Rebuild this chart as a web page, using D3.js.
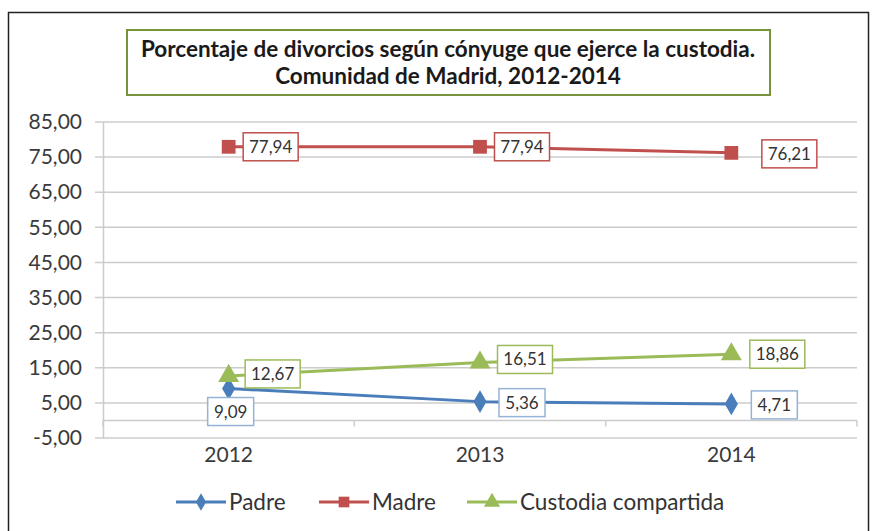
<!DOCTYPE html>
<html>
<head>
<meta charset="utf-8">
<script src="https://cdn.jsdelivr.net/npm/d3@7"></script>
<style>
  body { margin: 0; background: #fff; }
  svg { font-family: Lato, "Open Sans", sans-serif; }
</style>
</head>
<body>
<script>
// datos del grafico
var years = ["2012", "2013", "2014"];
var padre = [9.09, 5.36, 4.71];
var madre = [77.94, 77.94, 76.21];
var compartida = [12.67, 16.51, 18.86];
var seriesNames = ["Padre", "Madre", "Custodia compartida"];
var yTicks = [-5, 5, 15, 25, 35, 45, 55, 65, 75, 85];
var titleLines = ["Porcentaje de divorcios según cónyuge que ejerce la custodia.", "Comunidad de Madrid, 2012-2014"];

var width = 874, height = 531;
var colors = ["#4a7ebb", "#c0504d", "#9bbb59"];
var boxColors = ["#95b3d7", "#c0504d", "#9bbb59"];

var svg = d3.select("body").append("svg")
    .attr("width", width)
    .attr("height", height);

// marco exterior
svg.append("rect")
    .attr("x", 8.5).attr("y", 12.5)
    .attr("width", 860).attr("height", 540)
    .attr("fill", "none").attr("stroke", "#222").attr("stroke-width", 1.5);

// titulo
svg.append("rect")
    .attr("x", 127).attr("y", 30)
    .attr("width", 643).attr("height", 65)
    .attr("fill", "#fff").attr("stroke", "#77933c").attr("stroke-width", 2);
svg.selectAll(".title").data(titleLines).enter().append("text")
    .attr("x", 448).attr("y", function(d, i){ return 57 + i * 27; })
    .attr("text-anchor", "middle")
    .attr("font-size", 22.5).attr("font-weight", "bold").attr("fill", "#1a1a1a")
    .text(function(d){ return d; });

var left = 103, right = 857;
var xscale = d3.scaleBand().domain(years).range([left, right]);
var yscale = d3.scaleLinear().domain([-5, 85]).range([438, 122]);
var fmt = function(v){ return v.toFixed(2).replace(".", ","); };

// lineas de cuadricula
svg.append("g").selectAll("line").data(yTicks).enter().append("line")
    .attr("x1", left - 8).attr("x2", right)
    .attr("y1", function(d){ return yscale(d); })
    .attr("y2", function(d){ return yscale(d); })
    .attr("stroke", "#cccccc").attr("stroke-width", 1.5);

var y_axis = d3.axisLeft(yscale).tickValues(yTicks).tickSize(0).tickPadding(21)
    .tickFormat(fmt);
var gy = svg.append("g").attr("transform", "translate(" + left + ",0)").call(y_axis);
gy.select(".domain").attr("stroke", "#cccccc").attr("stroke-width", 1.5);
gy.selectAll("text").attr("font-size", 21).attr("fill", "#3a3a3a")
    .attr("font-family", "Lato, sans-serif");

// eje x cruzando en 0
var zeroY = yscale(0);
svg.append("line").attr("x1", left).attr("x2", right)
    .attr("y1", zeroY).attr("y2", zeroY)
    .attr("stroke", "#cccccc").attr("stroke-width", 1.5);
var tickPos = years.map(function(d){ return xscale(d); }).concat([right]);
svg.append("g").selectAll("line").data(tickPos).enter().append("line")
    .attr("x1", function(d){ return d; }).attr("x2", function(d){ return d; })
    .attr("y1", zeroY).attr("y2", zeroY + 6)
    .attr("stroke", "#cccccc").attr("stroke-width", 1.5);
svg.append("g").selectAll("text").data(years).enter().append("text")
    .attr("x", function(d){ return xscale(d) + xscale.bandwidth() / 2; })
    .attr("y", 462)
    .attr("text-anchor", "middle").attr("font-size", 21).attr("fill", "#3a3a3a")
    .text(function(d){ return d; });

var cx = function(i){ return xscale(years[i]) + xscale.bandwidth() / 2; };
var allSeries = [padre, madre, compartida];
var symbols = [d3.symbolDiamond, d3.symbolSquare, d3.symbolTriangle];
var symSizes = [150, 190, 190];

// desplazamientos de las etiquetas [dx, dy] respecto al punto
var labelOffsets = [
  [[2, 23], [42, 1], [43, 1]],
  [[42, 0], [42, 0], [58, 1]],
  [[44, -2], [45, -3], [46, 0]]
];

var line = d3.line()
    .x(function(d, i){ return cx(i); })
    .y(function(d){ return yscale(d); });

allSeries.forEach(function(data, s){
  svg.append("path").datum(data)
      .attr("d", line)
      .attr("fill", "none").attr("stroke", colors[s]).attr("stroke-width", 3);
  svg.append("g").selectAll("path").data(data).enter().append("path")
      .attr("transform", function(d, i){ return "translate(" + cx(i) + "," + yscale(d) + ")"; })
      .attr("d", d3.symbol().type(symbols[s]).size(symSizes[s]))
      .attr("fill", colors[s]);
});

// etiquetas de datos
allSeries.forEach(function(data, s){
  data.forEach(function(v, i){
    var lx = cx(i) + labelOffsets[s][i][0];
    var ly = yscale(v) + labelOffsets[s][i][1];
    var txt = fmt(v);
    var w = txt.length * 9 + 10, h = 28;
    svg.append("rect")
        .attr("x", lx - w / 2).attr("y", ly - h / 2)
        .attr("width", w).attr("height", h)
        .attr("fill", "#fff").attr("stroke", boxColors[s]).attr("stroke-width", 1.5);
    svg.append("text")
        .attr("x", lx).attr("y", ly + 6)
        .attr("text-anchor", "middle").attr("font-size", 17).attr("fill", "#333")
        .text(txt);
  });
});

// leyenda
var legendX = [176, 319, 467];
var lg = svg.append("g");
seriesNames.forEach(function(name, s){
  var x0 = legendX[s], y0 = 502;
  lg.append("line").attr("x1", x0).attr("x2", x0 + 50)
      .attr("y1", y0).attr("y2", y0)
      .attr("stroke", colors[s]).attr("stroke-width", 3);
  lg.append("path")
      .attr("transform", "translate(" + (x0 + 25) + "," + y0 + ")")
      .attr("d", d3.symbol().type(symbols[s]).size(symSizes[s] * 0.6))
      .attr("fill", colors[s]);
  lg.append("text").attr("x", x0 + 53).attr("y", y0 + 8)
      .attr("font-size", 22.5).attr("fill", "#333")
      .text(name);
});
</script>
</body>
</html>
